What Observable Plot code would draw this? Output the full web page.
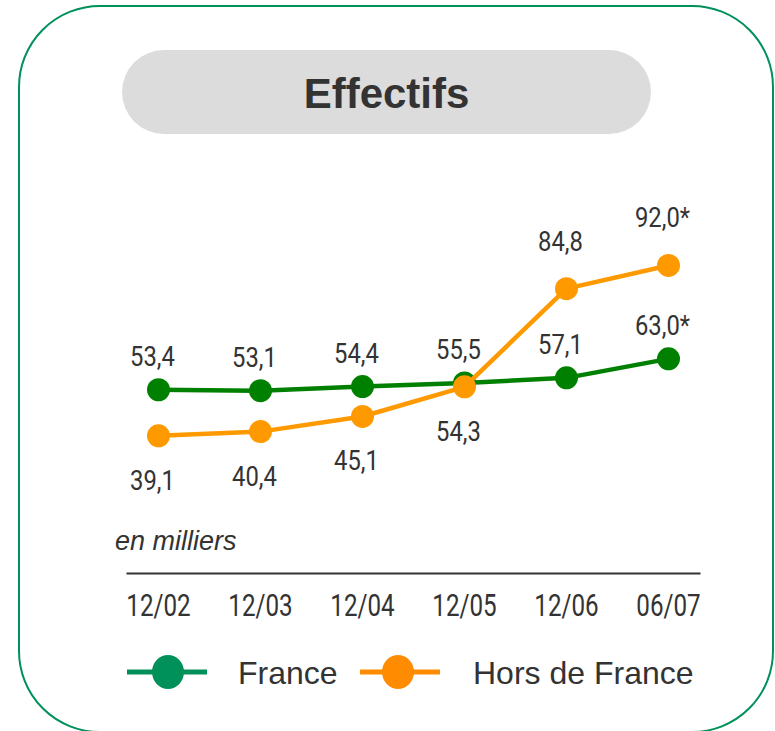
<!DOCTYPE html>
<html lang="fr">
<head>
<meta charset="utf-8">
<script src="https://cdn.jsdelivr.net/npm/d3@7"></script>
<script src="https://cdn.jsdelivr.net/npm/@observablehq/plot@0.6"></script>
<style>
  html, body { margin: 0; padding: 0; background: #fff; }
  body { width: 775px; height: 731px; position: relative; overflow: hidden; font-family: "Liberation Sans", Arial, sans-serif; color: #333; }
  #card { position: absolute; left: 18px; top: 5px; width: 752px; height: 724px; border: 2px solid #00915a; border-radius: 82px; }
  #pill { position: absolute; left: 122px; top: 50px; width: 529px; height: 84px; border-radius: 42px; background: #dcdcdc; }
  #title { position: absolute; left: 122px; width: 529px; top: 73px; line-height: 42px; text-align: center; font-size: 42px; font-weight: bold; color: #333; }
  #chart { position: absolute; left: 0; top: 0; }
  #unit { position: absolute; left: 115px; top: 528px; font-size: 27px; line-height: 27px; font-style: italic; color: #333; }
  .legend-label { position: absolute; top: 657px; font-size: 32px; line-height: 32px; color: #333; white-space: nowrap; }
  #legend-swatches { position: absolute; left: 0; top: 0; }
</style>
</head>
<body>
<div id="card"></div>
<div id="pill"></div>
<div id="title">Effectifs</div>
<div id="unit">en milliers</div>
<div id="chart"></div>
<svg id="legend-swatches" width="775" height="731"></svg>
<div class="legend-label" style="left:238px">France</div>
<div class="legend-label" style="left:473px">Hors de France</div>
<script>
// Effectifs (en milliers), France vs. hors de France
const periods = ["12/02", "12/03", "12/04", "12/05", "12/06", "06/07"];
const france = [53.4, 53.1, 54.4, 55.5, 57.1, 63.0];
const horsFrance = [39.1, 40.4, 45.1, 54.3, 84.8, 92.0];
// "*" marks the provisional figures of the last period
const provisional = [false, false, false, false, false, true];

const seriesNames = ["France", "Hors de France"];
const lineColors = ["#008000", "#ff9900"];
const legendColors = ["#00905a", "#ff8c00"];

const rows = periods.map((p, i) => ({
  period: p,
  france: france[i],
  hors: horsFrance[i],
  star: provisional[i] ? "*" : ""
}));

const fmt = (v, star) => v.toFixed(1).replace(".", ",") + star;
const labelFont = "Roboto, 'DejaVu Sans Condensed', sans-serif";
const valueSize = 28, tickSize = 31;

const chart = Plot.plot({
  width: 775,
  height: 731,
  marginLeft: 127,
  marginRight: 76,
  marginBottom: 158,
  marginTop: 200,
  x: { type: "point", domain: periods, padding: 0.3, axis: null },
  y: { domain: [30, 100], range: [464.6, 239.2], axis: null },
  style: { background: "transparent", fontFamily: labelFont, color: "#333", overflow: "visible" },
  marks: [
    Plot.frame({ anchor: "bottom", stroke: "#333", strokeWidth: 2 }),
    Plot.text(periods, {
      x: d => d, frameAnchor: "bottom", lineAnchor: "top", dy: 20,
      text: d => d, fontSize: tickSize, fill: "#333"
    }),
    Plot.line(rows, { x: "period", y: "france", stroke: lineColors[0], strokeWidth: 4.5 }),
    Plot.dot(rows, { x: "period", y: "france", r: 11.5, fill: lineColors[0] }),
    Plot.line(rows, { x: "period", y: "hors", stroke: lineColors[1], strokeWidth: 4.5 }),
    Plot.dot(rows, { x: "period", y: "hors", r: 11.5, fill: lineColors[1] }),
    Plot.text(rows, {
      x: "period", y: "france", text: d => fmt(d.france, d.star),
      lineAnchor: "bottom", dy: -24, dx: -6, fontSize: valueSize, fill: "#333"
    }),
    // international figures go below their dot while under the France line, above otherwise
    Plot.text(rows.filter(d => d.hors < d.france), {
      x: "period", y: "hors", text: d => fmt(d.hors, d.star),
      lineAnchor: "bottom", dy: 54, dx: -6, fontSize: valueSize, fill: "#333"
    }),
    Plot.text(rows.filter(d => d.hors >= d.france), {
      x: "period", y: "hors", text: d => fmt(d.hors, d.star),
      lineAnchor: "bottom", dy: -38, dx: -6, fontSize: valueSize, fill: "#333"
    })
  ]
});
document.getElementById("chart").appendChild(chart);

// Narrow the glyphs horizontally around each label's own centre to get a condensed face
d3.select(chart).selectAll("g[aria-label='text']").each(function () {
  const fs = +this.getAttribute("font-size");
  const k = fs === tickSize ? 0.78 : 0.85;
  d3.select(this).selectAll("text").each(function () {
    const b = this.getBBox();
    const cx = b.x + b.width / 2;
    const t = this.getAttribute("transform") || "";
    this.setAttribute("transform", `${t} translate(${cx},0) scale(${k},1) translate(${-cx},0)`);
  });
});

// Legend: line-and-dot swatches beside the HTML labels
const sw = d3.select("#legend-swatches");
const swatchX = [[127, 207, 168], [360, 440, 398]];
seriesNames.forEach((name, i) => {
  const [x1, x2, cx] = swatchX[i];
  sw.append("line").attr("x1", x1).attr("x2", x2).attr("y1", 672).attr("y2", 672)
    .attr("stroke", legendColors[i]).attr("stroke-width", 5);
  sw.append("ellipse").attr("cx", cx).attr("cy", 672).attr("rx", 16).attr("ry", 17)
    .attr("fill", legendColors[i]);
});
</script>
</body>
</html>
